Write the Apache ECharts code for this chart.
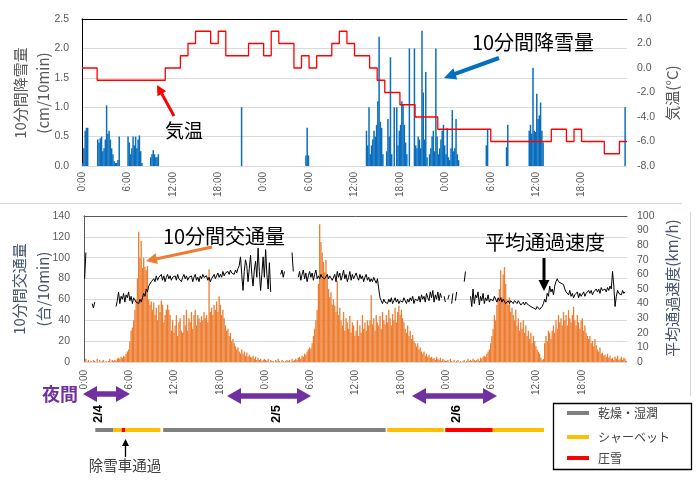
<!DOCTYPE html>
<html><head><meta charset="utf-8">
<script src="https://cdn.jsdelivr.net/npm/echarts/dist/echarts.min.js"></script>
<style>html,body{margin:0;padding:0;background:#fff}#c{width:699px;height:482px}</style>
</head><body><div id="c"></div>
<script>
// ---- DATA (10-minute steps, 3 days from 2/4 0:00) ----
const snow = [
0.05,0.3,0.6,0.65,0.65,0,
0,0,0,0,0,0,
0.45,0.4,0.47,0.5,0.25,0.3,
0.45,1.03,0.55,0.6,0.45,0.3,
0.2,0.08,0.05,0.05,0.1,0.5,
0,0,0,0,0,0,
0.5,0.4,0.2,0.3,0.5,0.35,
0.5,0.3,0.45,0.52,0.25,0.05,
0,0,0,0,0,0,
0.15,0.2,0.27,0.2,0.15,0.15,
0.2,0,0,0,0,0,
0,0,0,0,0,0,
0,0,0,0,0,0,
0,0,0,0,0,0,
0,0,0,0,0,0,
0,0,0,0,0,0,
0,0,0,0,0,0,
0,0,0,0,0,0,
0,0,0,0,0,0,
0,0,0,0,0,0,
0,0,0,0,0,0,
1.0,0,0,0,0,0,
0,0,0,0,0,0,
0,0,0,0,0,0,
0,0,0,0,0,0,
0,0,0,0,0,0,
0,0,0,0,0,0,
0,0,0,0,0,0,
0,0,0,0,0,0,
0,0,0,0.18,0.65,0.18,
0,0,0,0,0,0,
0,0,0,0,0,0,
0,0,0,0,0,0,
0,0,0,0,0,0,
0,0,0,0,0,0,
0,0,0,0,0,0,
0,0,0,0,0,0,
0,0,0,0.6,0.35,1.0,
0.2,0.35,0.45,0.6,0.5,0.7,
1.1,2.2,0.75,0.65,0.2,0,
0,0.25,0.8,0.5,1.85,0.2,
0,1.0,0,1.0,0.35,0.6,
0.7,1.1,1.05,0.7,0.4,0.2,
0,2.0,0,0,0,2.0,
0.35,0.3,0.5,0.45,0.3,2.3,
1.25,0.45,1.6,0.15,0,0.2,
0.3,0.5,0.6,0.25,2.0,0.5,
0.2,0.3,0.45,0.6,0.7,0.35,
0.2,0.64,0.15,0.1,0.3,0.95,
0.25,0.3,0.8,0.2,0.1,0,
0,0,0,0,0,0,
0,0,0,0,0,0,
0,0,0,0,0,0,
0,0,0.35,0.63,0,0,
0,0,0,0,0,0,
0,0,0,0,0,0,
0.32,0.7,0,0,0,0,
0,0,0,0,0,0,
0,0,0,0,0,0,
0.6,0.7,0.55,1.67,0.6,0.58,
1.23,0.8,0.86,1.08,0.6,0.4,
0,0,0,0,0,0,
0,0,0,0,0,0,
0,0,0,0,0,0,
0,0,0,0,0,0,
0,0,0,0,0,0,
0,0,0,0,0,0,
0,0,0,0,0,0,
0,0,0,0,0,0,
0,0,0,0,0,0,
0,0,0,0,0,0,
0,0,0,0,1.0,0
];

// hourly air temperature (°C), hour 0..71
const tempHourly = [
0,0,-1,-1,-1,-1,-1,-1,-1,-1,-1,0,0,1,2,3,3,2,3,1,1,1,2,2,
1,3,2,2,0,1,0,1,1,2,3,2,1,1,0,-1,-2,-2,-3,-3,-4,-4,-4,-5,
-5,-5,-5,-5,-5,-5,-6,-6,-6,-6,-6,-6,-6,-6,-5,-5,-6,-5,-6,-6,-6,-7,-7,-6
];

const traffic = [
1,3,0,2,0,1,
0,2,1,0,3,0,
2,0,1,2,0,1,
0,1,3,0,2,1,
2,1,3,4,3,5,
4,6,5,8,10,12,
20,30,33,40,50,60,
80,125,100,116,90,100,
91,88,92,60,55,58,
50,57,45,52,40,55,
48,59,55,38,45,50,
55,50,45,30,40,28,
35,45,25,38,42,30,
28,45,35,50,30,42,
38,48,32,45,50,35,
45,42,38,44,40,48,
42,45,38,89,48,52,
45,55,50,58,48,63,
55,45,50,42,35,30,
32,25,28,20,22,18,
15,12,14,10,8,12,
8,10,6,9,5,7,
5,4,6,3,5,2,
4,2,3,1,2,3,
2,1,3,0,2,1,
1,0,2,1,3,1,
0,2,1,0,1,2,
1,2,0,3,1,2,
3,2,4,5,3,6,
5,8,7,10,12,14,
13,18,25,32,40,50,
75,132,115,105,96,86,
98,82,70,62,67,55,
60,54,48,78,45,52,
40,35,48,30,42,38,
32,44,28,38,35,25,
30,40,25,35,28,45,
32,38,30,40,35,40,
64,36,42,30,45,38,
35,44,32,48,40,36,
45,38,50,42,35,46,
40,52,38,48,54,45,
50,42,38,32,28,35,
25,30,22,26,20,18,
15,18,12,14,10,8,
10,6,8,5,7,4,
5,3,4,2,5,3,
2,4,1,3,2,1,
1,2,0,3,1,0,
2,0,1,2,0,1,
0,1,2,0,1,3,
1,2,1,3,2,1,
2,3,1,4,3,5,
6,5,8,10,12,18,
25,32,45,40,55,60,
70,88,62,84,91,75,
60,55,62,48,52,45,
40,50,35,42,30,38,
32,40,28,35,25,30,
22,28,18,25,20,15,
12,10,8,4,2,3,
18,25,20,30,28,22,
30,35,28,40,32,45,
38,42,35,48,40,45,
35,50,42,38,45,53,
40,35,45,38,32,40,
42,30,35,28,25,22,
25,18,20,15,22,16,
12,10,14,8,9,6,
7,5,8,4,6,3,
4,2,5,3,6,2,
3,5,2,4,3,1
];

const speed = [
57,75,null,null,null,null,
40,37,41,null,null,null,
null,null,null,null,null,null,
null,null,null,null,null,null,
null,38,42,48,40,45,
43,47,41,46,44,48,
42,45,40,44,43,41,
42,40,43,41,44,47,
45,50,48,52,51,55,
54,57,55,59,56,58,
57,60,56,59,55,58,
60,57,59,56,58,57,
59,56,60,57,58,55,
58,60,57,59,56,58,
57,59,55,58,60,56,
58,55,59,57,60,58,
57,59,56,58,55,57,
58,60,57,59,61,58,
60,58,62,59,61,60,
62,60,63,61,62,60,
63,61,64,66,72,60,
49,62,70,66,55,64,
73,60,52,63,69,58,
78,62,49,60,72,58,
77,60,50,68,48,null,
null,null,null,null,null,null,
60,63,58,62,null,null,
null,null,null,75,62,null,
null,null,58,62,56,60,
63,57,61,55,59,62,
58,61,56,60,63,57,
59,57,60,58,59,57,
58,60,57,59,58,56,
57,60,55,62,58,61,
56,59,63,57,60,55,
58,62,56,60,57,59,
61,58,56,60,57,59,
55,58,60,56,58,55,
57,55,58,56,54,57,
50,44,42,40,43,41,
42,40,43,41,44,40,
42,44,41,43,40,42,
43,41,44,42,40,43,
41,44,42,45,40,43,
44,42,45,41,46,43,
45,41,47,44,42,48,
44,49,41,46,43,48,
42,47,44,null,45,41,
null,43,46,null,40,47,
null,42,48,null,null,null,
null,null,55,62,null,null,
null,45,38,50,40,46,
44,48,39,45,42,47,
40,44,42,46,41,43,
44,42,45,43,41,44,
42,44,41,43,42,40,
41,42,40,42,41,40,
42,41,40,42,41,39,
40,41,39,41,40,39,
40,38,39,37,38,36,
38,37,36,35,38,40,
43,41,47,45,52,48,
50,46,52,55,57,55,
56,54,55,53,50,48,
47,46,49,45,47,44,
46,45,48,44,47,45,
46,48,45,47,46,49,
47,49,46,48,47,50,
48,50,47,51,49,48,
50,48,51,49,52,50,
62,52,38,45,49,47,
48,46,49,47,48,null
];

// road surface condition: [start hour, end hour, type index]
const roadSegments = [
[1.5,3.9,0],[3.9,5.0,1],[5.0,5.45,2],[5.45,10.15,1],
[10.5,40.0,0],[40.2,47.7,1],[47.9,54.2,2],[54.2,61.0,1]
];
const roadTypes = ['乾燥・湿潤','シャーベット','圧雪'];
const timeTickLabels = ['0:00','6:00','12:00','18:00'];
const dateLabels = ['2/4','2/5','2/6'];

// ---- STYLE ----
const roadColors = ['#808080','#FFC000','#FF0000'];
const JP = '"Noto Sans CJK JP", sans-serif';
const NUM = '"Liberation Sans", Arial, sans-serif';
const GRAY = '#595959';

const chart = echarts.init(document.getElementById('c'), null, {renderer:'canvas'});
const tx = i => (i + 0.5) / 6;
const snowData = snow.map((v,i)=>[tx(i), v]);
const trafficData = traffic.map((v,i)=>[tx(i), v]);
const speedData = speed.map((v,i)=>[tx(i), v===null ? '-' : v]);
const tempData = tempHourly.map((v,h)=>[h, v]).concat([[72, tempHourly[71]]]);

function xLab(v){ if (v >= 72) return ''; return timeTickLabels[(v % 24) / 6]; }
function xAxisMain(g, m){
  return {type:'value', gridIndex:g, min:0, max:72, interval:6,
    axisLine:{show:true, lineStyle:{color:'#D9D9D9'}}, axisTick:{show:false}, splitLine:{show:false},
    axisLabel:{rotate:90, color:GRAY, fontSize:10, fontFamily:NUM, margin:m, formatter:xLab}};
}
function xAxisTop(g, c){
  return {type:'value', gridIndex:g, min:0, max:72, position:'top',
    axisLine:{show:true, onZero:false, lineStyle:{color:c}}, axisTick:{show:false}, axisLabel:{show:false}, splitLine:{show:false}};
}

function arrow(x1,y1,x2,y2,color,w,hl,hw){
  const dx=x2-x1, dy=y2-y1, L=Math.hypot(dx,dy), ux=dx/L, uy=dy/L;
  const bx=x2-ux*hl, by=y2-uy*hl, px=-uy, py=ux;
  return [
    {type:'line', z:100, shape:{x1:x1,y1:y1,x2:bx+ux*1,y2:by+uy*1}, style:{stroke:color,lineWidth:w}},
    {type:'polygon', z:100, shape:{points:[[x2,y2],[bx+px*hw/2,by+py*hw/2],[bx-px*hw/2,by-py*hw/2]]}, style:{fill:color}}
  ];
}
function dblArrow(x1,x2,y,color,w,hl,hw){
  return [
    {type:'line', z:100, shape:{x1:x1+hl-1,y1:y,x2:x2-hl+1,y2:y}, style:{stroke:color,lineWidth:w}},
    {type:'polygon', z:100, shape:{points:[[x1,y],[x1+hl,y-hw/2],[x1+hl,y+hw/2]]}, style:{fill:color}},
    {type:'polygon', z:100, shape:{points:[[x2,y],[x2-hl,y-hw/2],[x2-hl,y+hw/2]]}, style:{fill:color}}
  ];
}
function txt(x,y,t,size,color,opt){
  opt = opt || {};
  return {type:'text', z:100, x:x, y:y, rotation:opt.rot||0,
    style:{text:t, fill:color, font:(opt.weight||'normal')+' '+size+'px '+(opt.family||JP), align:opt.align||'center', verticalAlign:'middle'}};
}

const graphics = [].concat(
  [{type:'line', z:1, shape:{x1:0,y1:203.5,x2:682,y2:203.5}, style:{stroke:'#D9D9D9',lineWidth:1}},
   {type:'line', z:1, shape:{x1:690.5,y1:212,x2:690.5,y2:396}, style:{stroke:'#D9D9D9',lineWidth:1}}],
  // axis titles
  [txt(20,93,'10分間降雪量',15,GRAY,{rot:Math.PI/2}), txt(43,93,'(cm/10min)',15,GRAY,{rot:Math.PI/2}),
   txt(672,93,'気温(°C)',15,GRAY,{rot:Math.PI/2}),
   txt(19,289,'10分間交通量',15,'#44546A',{rot:Math.PI/2}), txt(43,289,'(台/10min)',15,'#44546A',{rot:Math.PI/2}),
   txt(672,288,'平均通過速度(km/h)',15,'#44546A',{rot:Math.PI/2})],
  // annotations
  [txt(184,131,'気温',19,'#000'), txt(533,42,'10分間降雪量',20,'#000'),
   txt(224,236,'10分間交通量',20,'#000'), txt(545,242,'平均通過速度',20,'#000')],
  arrow(174,116,157,85,'#FF0000',3,10,10),
  arrow(499,58,444,78,'#0070C0',4,12,12),
  arrow(212,247,146,261,'#ED7D31',3,11,11),
  arrow(544,258,544,291,'#000',3,11,11),
  // night arrows
  [txt(60,394,'夜間',18,'#7030A0',{weight:'bold'})],
  dblArrow(83,130,394,'#7030A0',5.5,14,16),
  dblArrow(227,311,396,'#7030A0',5.5,14,16),
  dblArrow(412,497,396,'#7030A0',5.5,14,16),
  [txt(98,414,dateLabels[0],13,'#000',{rot:Math.PI/2,family:NUM,weight:'bold'}),
   txt(276,414,dateLabels[1],13,'#000',{rot:Math.PI/2,family:NUM,weight:'bold'}),
   txt(456,414,dateLabels[2],13,'#000',{rot:Math.PI/2,family:NUM,weight:'bold'})],
  arrow(125.5,457,125.5,439,'#000',1.3,7,7),
  [txt(125,465,'除雪車通過',14.5,'#404040')],
  // legend box
  [{type:'rect', z:100, shape:{x:553.5,y:403.5,width:138,height:66}, style:{fill:'#fff',stroke:'#000',lineWidth:1.3}},
   {type:'rect', z:101, shape:{x:567,y:411,width:22,height:4}, style:{fill:roadColors[0]}},
   {type:'rect', z:101, shape:{x:567,y:435,width:22,height:4}, style:{fill:roadColors[1]}},
   {type:'rect', z:101, shape:{x:567,y:456,width:22,height:4}, style:{fill:roadColors[2]}},
   txt(598,413,roadTypes[0],12,'#404040',{align:'left'}),
   txt(598,437,roadTypes[1],12,'#404040',{align:'left'}),
   txt(598,458,roadTypes[2],12,'#404040',{align:'left'})]
);

const option = {
  animation:false,
  backgroundColor:'#fff',
  grid:[
    {left:82, right:72, top:19, height:147},
    {left:84, right:72, top:216, height:146},
    {left:84, right:72, top:420, height:20}
  ],
  xAxis:[
    xAxisMain(0,6), xAxisTop(0,'#000'),
    xAxisMain(1,8), xAxisTop(1,'#595959'),
    {type:'value', gridIndex:2, min:0, max:72, show:false}
  ],
  yAxis:[
    {type:'value', gridIndex:0, min:0, max:2.5, interval:0.5,
     axisLine:{show:true, lineStyle:{color:'#868686'}}, axisTick:{show:false},
     splitLine:{lineStyle:{color:'#D9D9D9'}},
     axisLabel:{color:GRAY, fontSize:10.5, fontFamily:NUM, margin:13, formatter:v=>v.toFixed(1)}},
    {type:'value', gridIndex:0, min:-8, max:4, interval:2, position:'right',
     axisLine:{show:true, lineStyle:{color:'#000'}}, axisTick:{show:false}, splitLine:{show:false},
     axisLabel:{color:GRAY, fontSize:10.5, fontFamily:NUM, margin:10, formatter:v=>v.toFixed(1)}},
    {type:'value', gridIndex:1, min:0, max:140, interval:20,
     axisLine:{show:true, lineStyle:{color:'#868686'}}, axisTick:{show:false},
     splitLine:{lineStyle:{color:'#D9D9D9'}},
     axisLabel:{color:GRAY, fontSize:10.5, fontFamily:NUM, margin:14}},
    {type:'value', gridIndex:1, min:0, max:100, interval:10, position:'right',
     axisLine:{show:true, lineStyle:{color:'#595959'}}, axisTick:{show:false}, splitLine:{show:false},
     axisLabel:{color:GRAY, fontSize:10.5, fontFamily:NUM, margin:10}},
    {type:'value', gridIndex:2, min:-1, max:1, show:false}
  ],
  series:[
    {name:'10分間降雪量', type:'bar', xAxisIndex:0, yAxisIndex:0, data:snowData, barWidth:1.5,
     itemStyle:{color:'#0A6EBD'}, z:3},
    {name:'気温', type:'line', xAxisIndex:0, yAxisIndex:1, data:tempData, step:'end', symbol:'none',
     lineStyle:{color:'#FF0000', width:1.3}, z:4},
    {name:'10分間交通量', type:'bar', xAxisIndex:2, yAxisIndex:2, data:trafficData, barWidth:1.3,
     itemStyle:{color:'#ED7D31'}, z:3},
    {name:'平均通過速度', type:'line', xAxisIndex:2, yAxisIndex:3, data:speedData, symbol:'none',
     connectNulls:false, lineStyle:{color:'#000', width:1}, z:4},
    {name:'路面状況', type:'custom', xAxisIndex:4, yAxisIndex:4,
     data: roadSegments.map(s=>[s[0], s[1], s[2], 0]),
     encode:{x:[0,1], y:3},
     renderItem:(params, api)=>{
       const a = api.coord([api.value(0), 0]);
       const b = api.coord([api.value(1), 0]);
       return {type:'rect', shape:{x:a[0], y:a[1]-2, width:b[0]-a[0], height:4},
               style:{fill: roadColors[api.value(2)]}};
     }}
  ],
  graphic: graphics
};
chart.setOption(option);
</script>
</body></html>
